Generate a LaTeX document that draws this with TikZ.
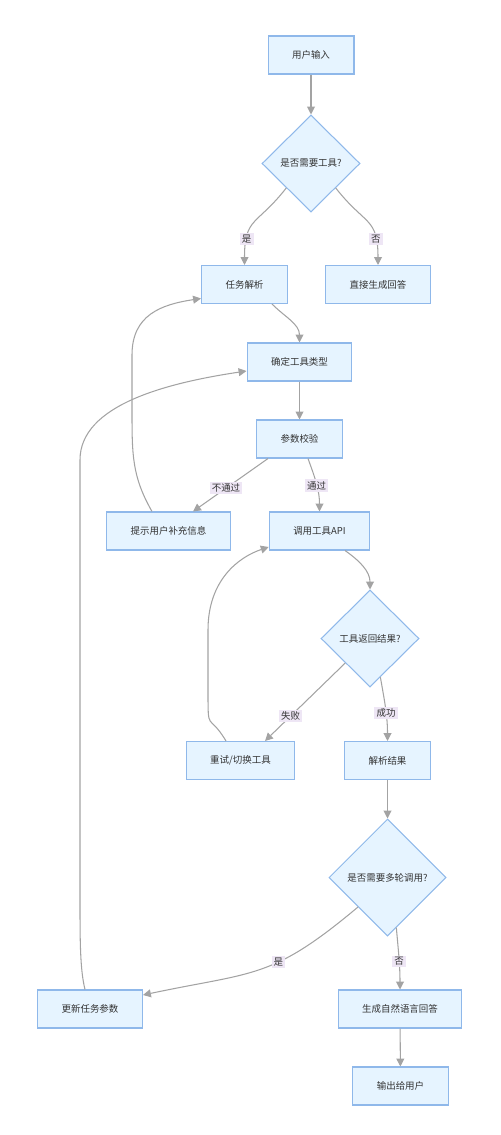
\documentclass[tikz,border=0pt]{standalone}
\usepackage{fontspec}
\usepackage{xcolor}
\usepackage{tikz}
\newfontfamily\cjk{Noto Sans CJK SC}
\usetikzlibrary{arrows.meta,shapes.geometric}
\definecolor{boxfill}{HTML}{E6F4FF}
\definecolor{boxline}{HTML}{8FB8EA}
\definecolor{edgegray}{HTML}{A3A3A3}
\definecolor{lblfill}{HTML}{EEE6F5}
\definecolor{txt}{HTML}{333333}
\tikzstyle{blk}=[rectangle, draw=boxline, fill=boxfill,% light blue step box
line width=0.6pt, minimum height=0.76cm, inner xsep=0.48cm, text=txt, font=\cjk\fontsize{5.4pt}{6.5pt}\selectfont]
\tikzstyle{dec}=[diamond, aspect=1, draw=boxline, fill=boxfill,% question box
line width=0.6pt, inner sep=0pt, minimum width=1.96cm, minimum height=1.94cm, text=txt, font=\cjk\fontsize{5.4pt}{6.5pt}\selectfont]
\tikzstyle{lbl}=[fill=lblfill, inner xsep=1.2pt, inner ysep=1pt, text=txt, font=\cjk\fontsize{5.4pt}{6.5pt}\selectfont]
\tikzstyle{flow}=[-{Triangle[length=4.5pt,width=4.5pt]}, draw=edgegray, line width=0.6pt]

\begin{document}
\begin{tikzpicture}[x=0.02cm,y=0.02cm]
\useasboundingbox (0,0) rectangle (500,-1135);
\node[blk] (inp) at (311,-55) {用户输入};
\node[dec] (needtool) at (311,-163.5) {是否需要工具?};
\node[blk] (parse) at (244.5,-284.5) {任务解析};
\node[blk] (direct) at (378,-284.5) {直接生成回答};
\node[blk] (tooltype) at (299.5,-362) {确定工具类型};
\node[blk] (check) at (299.5,-439) {参数校验};
\node[blk] (hint) at (168.5,-531) {提示用户补充信息};
\node[blk] (api) at (319.5,-531) {调用工具API};
\node[dec] (result) at (370,-638.5) {工具返回结果?};
\node[blk] (retry) at (240.5,-760.5) {重试/切换工具};
\node[blk] (parsres) at (387.5,-760.5) {解析结果};
\node[dec, minimum width=2.34cm, minimum height=2.34cm] (multi) at (387.5,-877.5) {是否需要多轮调用?};
\node[blk] (update) at (90,-1009) {更新任务参数};
\node[blk] (answer) at (400,-1009) {生成自然语言回答};
\node[blk] (output) at (400.5,-1086) {输出给用户};
\draw [flow] (inp) -- (needtool);
\draw [flow] (needtool.south west) to[out=-128,in=90,looseness=1.4] node[lbl,pos=0.76] {是} (parse);
\draw [flow] (needtool.south east) to[out=-52,in=90,looseness=1.4] node[lbl,pos=0.76] {否} (direct);
\draw [flow] ([xshift=0.55cm]parse.south) to[out=-45,in=90] (tooltype);
\draw [flow] (tooltype) -- (check);
\draw [flow] ([xshift=-0.63cm]check.south) -- node[lbl,pos=0.56] {不通过} ([xshift=0.49cm]hint.north);
\draw [flow] ([xshift=0.17cm]check.south) to[out=-70,in=90] node[lbl,pos=0.52] {通过} (api);
\draw [flow] ([xshift=-0.33cm]hint.north) .. controls +(-20,35) and +(0,-45) .. (132,-410) -- (132,-355)
  .. controls +(0,40) and +(-40,-6) .. ([yshift=-0.28cm]parse.west);
\draw [flow] ([xshift=0.51cm]api.south) to[out=-35,in=90] (result);
\draw [flow] (result.south west) -- node[lbl,pos=0.68] {失败} ([xshift=0.49cm]retry.north);
\draw [flow] (result.-75) to[out=-80,in=90] node[lbl,pos=0.57] {成功} (parsres);
\draw [flow] ([xshift=-0.29cm]retry.north) .. controls +(-18,30) and +(0,-45) .. (208,-690) -- (208,-630)
  .. controls +(0,50) and +(-30,-10) .. ([yshift=-0.32cm]api.west);
\draw [flow] (parsres) -- (multi);
\draw [flow] (multi.south west) to[out=-140,in=12,looseness=1.25] node[lbl,pos=0.39] {是} ([yshift=0.28cm]update.east);
\draw [flow] (multi.-80) to[out=-85,in=90] node[lbl,pos=0.55] {否} (answer);
\draw [flow] (answer) -- (output);
\draw [flow] ([xshift=-0.1cm]update.north) .. controls +(-5,20) and +(0,-40) .. (80,-900) -- (80,-460)
  .. controls +(0,55) and +(-80,-12) .. ([yshift=-0.18cm]tooltype.west);
\end{tikzpicture}
\end{document}
